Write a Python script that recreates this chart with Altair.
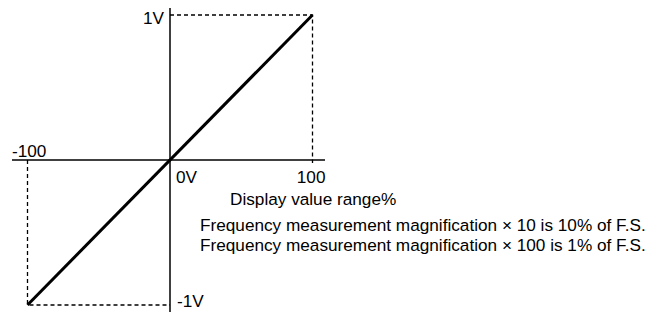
import altair as alt
import pandas as pd

# Data
line_x = [-100, 100]
line_y = [-1, 1]

# dashed guide paths (x in %, y in V)
guide_top_x = [0, 100, 100]
guide_top_y = [1, 1, -0.02]
guide_bot_x = [-100, -100, 0]
guide_bot_y = [0, -1, -1]

tick_labels = ["1V", "-100", "0V", "100", "-1V"]
tick_x = [0, -100, 0, 100, 0]
tick_y = [1, 0, 0, 0, -1]

notes = [
    "Display value range%",
    "Frequency measurement magnification \u00d7 10 is 10% of F.S.",
    "Frequency measurement magnification \u00d7 100 is 1% of F.S.",
]

FONT = "Liberation Sans"
FS = 17.2

W = 641
H = 304
xs = alt.Scale(domain=[-162 / 1.425, (W - 162) / 1.425], nice=False, zero=False)
ys = alt.Scale(domain=[-(H - 152) / 145, 152 / 145], nice=False, zero=False)

main_df = pd.DataFrame({"x": line_x, "y": line_y})
top_df = pd.DataFrame({"x": guide_top_x, "y": guide_top_y, "o": [0, 1, 2]})
bot_df = pd.DataFrame({"x": guide_bot_x, "y": guide_bot_y, "o": [0, 1, 2]})

base_enc = dict(
    x=alt.X("x:Q", scale=xs, axis=None),
    y=alt.Y("y:Q", scale=ys, axis=None),
)

diag = alt.Chart(main_df).mark_line(color="black", strokeWidth=3, strokeCap="butt").encode(**base_enc)

top = alt.Chart(top_df).mark_line(color="black", strokeWidth=1.3, strokeDash=[4, 3]).encode(
    order="o:O", **base_enc)
bot = alt.Chart(bot_df).mark_line(color="black", strokeWidth=1.3, strokeDash=[4, 3]).encode(
    order="o:O", **base_enc)

axis_df = pd.DataFrame({"v": [0]})
xaxis = alt.Chart(axis_df).mark_rule(color="black", strokeWidth=1.5).encode(
    x=alt.value(4), x2=alt.value(317), y=alt.Y("v:Q", scale=ys, axis=None))
yaxis = alt.Chart(axis_df).mark_rule(color="black", strokeWidth=1.5).encode(
    x=alt.X("v:Q", scale=xs, axis=None), y=alt.value(0), y2=alt.value(H))

lab_df = pd.DataFrame({"label": tick_labels, "x": tick_x, "y": tick_y})

def lab(i, align, dx, dy):
    return alt.Chart(lab_df.iloc[[i]]).mark_text(
        align=align, baseline="alphabetic", dx=dx, dy=dy, font=FONT, fontSize=FS, color="black"
    ).encode(text="label:N", **base_enc)

labels = [
    lab(0, "right", -6, 9),
    lab(1, "left", -15.5, -3),
    lab(2, "left", 6, 23),
    lab(3, "right", 13, 23),
    lab(4, "left", 7, 2),
]

notes_df = pd.DataFrame({"t": notes, "i": [0, 1, 2]})
note_marks = [
    alt.Chart(notes_df.iloc[[0]]).mark_text(
        align="left", baseline="alphabetic", font=FONT, fontSize=FS, color="black"
    ).encode(text="t:N", x=alt.value(222), y=alt.value(197)),
    alt.Chart(notes_df.iloc[[1]]).mark_text(
        align="left", baseline="alphabetic", font=FONT, fontSize=FS, color="black"
    ).encode(text="t:N", x=alt.value(192), y=alt.value(223)),
    alt.Chart(notes_df.iloc[[2]]).mark_text(
        align="left", baseline="alphabetic", font=FONT, fontSize=FS, color="black"
    ).encode(text="t:N", x=alt.value(192), y=alt.value(243)),
]

chart = alt.layer(xaxis, yaxis, top, bot, diag, *labels, *note_marks).properties(
    width=W, height=H, padding=0, autosize="none", background="white"
).configure_view(stroke=None)

chart.save("out.html", embed_options={"renderer": "svg", "actions": False})
